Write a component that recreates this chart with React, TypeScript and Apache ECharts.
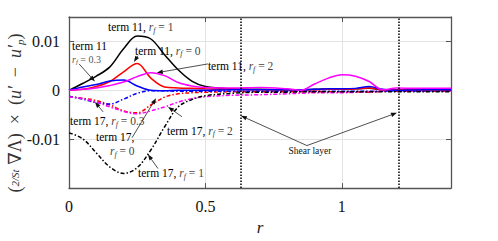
import React, { useEffect, useRef } from 'react';
import * as echarts from 'echarts';

const rValues = [0, 0.05, 0.1, 0.15, 0.2, 0.25, 0.3, 0.35, 0.4, 0.45, 0.5, 0.6, 0.7, 0.8, 0.85, 0.9, 0.95, 1.0, 1.05, 1.1, 1.15, 1.2, 1.3, 1.4];

const term11rf1 = [0, 0.0014, 0.0029, 0.0048, 0.0085, 0.0111, 0.0105, 0.0073, 0.0042, 0.0019, 0.0008, 0.0003, 0.0002, 0.0001, 0.0001, 0.0002, 0.0003, 0.0003, 0.0003, 0.0004, 0.0001, 0.0001, 0.0001, 0.0001];
const term11rf0 = [0, 0.0002, 0.0008, 0.0018, 0.0038, 0.0055, 0.0025, 0.0007, 0.0005, 0.0004, 0.0003, 0.0002, 0.0001, 0.0001, 0.0001, 0.0001, 0.0002, 0.0002, 0.0003, 0.0005, 0.0001, 0.0001, 0.0001, 0.0001];
const term11rf03 = [0, 0.0007, 0.0012, 0.0019, 0.0021, 0.0009, 0.0, -0.0001, 0, 0, 0, 0.0001, 0.0001, 0.0001, 0.0001, 0.0002, 0.0003, 0.0003, 0.0004, 0.0008, 0.0002, 0, 0.0001, 0.0001];
const term11rf2 = [0, 0.0002, 0.0005, 0.001, 0.0017, 0.0028, 0.0036, 0.003, 0.0016, 0.0009, 0.0006, 0.0005, 0.0006, 0.0003, 0.0, 0.0013, 0.0025, 0.0032, 0.0029, 0.0018, 0.0001, 0.0005, 0.0004, 0.0004];

const term17rf1 = [-0.0087, -0.0099, -0.0128, -0.0157, -0.017, -0.0158, -0.0122, -0.0075, -0.0034, -0.0019, -0.0011, -0.0006, -0.0004, -0.0004, -0.0003, -0.0003, -0.0003, -0.0003, -0.0003, -0.0003, -0.0003, -0.0003, -0.0003, -0.0003];
const term17rf0 = [-0.0013, -0.0016, -0.0021, -0.003, -0.0042, -0.0046, -0.003, -0.0014, -0.0007, -0.0005, -0.0004, -0.0003, -0.0003, -0.0003, -0.0003, -0.0003, -0.0003, -0.0003, -0.0003, -0.0004, -0.0002, -0.0002, -0.0002, -0.0002];
const term17rf03 = [-0.0012, -0.0018, -0.0025, -0.0028, -0.0018, -0.0006, -0.0001, -0.0001, -0.0002, -0.0002, -0.0002, -0.0002, -0.0002, -0.0002, -0.0002, -0.0002, -0.0002, -0.0002, -0.0002, -0.0002, -0.0002, -0.0002, -0.0002, -0.0002];
const term17rf2 = [-0.0013, -0.0017, -0.0024, -0.0034, -0.0043, -0.0048, -0.0042, -0.0034, -0.0024, -0.0017, -0.0013, -0.001, -0.0009, -0.0007, -0.0006, -0.0005, -0.0005, -0.0005, -0.0004, -0.0003, -0.0002, -0.0002, -0.0002, -0.0002];

const xTickLabels: Record<string, string> = { '0': '0', '0.5': '0.5', '1': '1' };
const yTickLabels: Record<string, string> = { '0.01': '0.01', '0': '0', '-0.01': '-0.01' };

const shearLayerBounds = [0.627, 1.209];

// annotations in data coordinates
const textNotes = [
  { x: 0.143, y: 0.0129, t: '{b|term 11, }{i|r}{s|f}{g| = 1}' },
  { x: 0.011, y: 0.0091, t: '{b|term 11}' },
  { x: 0.011, y: 0.0064, t: '{ism|r}{ss|f}{gsm| = 0.3}' },
  { x: 0.242, y: 0.0081, t: '{b|term 11, }{i|r}{s|f}{g| = 0}' },
  { x: 0.509, y: 0.0049, t: '{b|term 11, }{i|r}{s|f}{g| = 2}' },
  { x: 0.004, y: -0.0063, t: '{b|term 17, }{i|r}{s|f}{g| = 0.3}' },
  { x: 0.099, y: -0.0095, t: '{b|term 17,}' },
  { x: 0.150, y: -0.0125, t: '{i|r}{s|f}{g| = 0}' },
  { x: 0.359, y: -0.0083, t: '{b|term 17, }{i|r}{s|f}{g| = 2}' },
  { x: 0.253, y: -0.017, t: '{b|term 17, }{i|r}{s|f}{g| = 1}' },
];
const shearNote = { x: 0.883, y: -0.0125, t: 'Shear layer' };

const arrowNotes = [
  { from: [0.037, 0.0054], to: [0.095, 0.0018] },
  { from: [0.253, 0.0071], to: [0.238, 0.0058] },
  { from: [0.509, 0.0054], to: [0.322, 0.0036] },
  { from: [0.125, -0.0044], to: [0.095, -0.0024] },
  { from: [0.231, -0.0097], to: [0.319, -0.0016] },
  { from: [0.414, -0.0054], to: [0.363, -0.0034] },
  { from: [0.326, -0.016], to: [0.289, -0.0131] },
  { from: [0.872, -0.0113], to: [0.63, -0.0052] },
  { from: [0.872, -0.0113], to: [1.202, -0.0046] },
];

const SERIF = '"Liberation Serif", "DejaVu Serif", serif';

function pairs(vals: number[]) {
  return rValues.map((r, i) => [r, vals[i]]);
}

const richStyles = {
  b: { fill: '#000', color: '#000', fontSize: 11.5, fontFamily: SERIF, lineHeight: 14 },
  i: { fill: '#444', color: '#444', fontSize: 11.5, fontFamily: SERIF, fontStyle: 'italic', lineHeight: 14 },
  s: { fill: '#444', color: '#444', fontSize: 8, fontFamily: SERIF, fontStyle: 'italic', lineHeight: 14, verticalAlign: 'bottom', padding: [5, 0, 0, 0] },
  g: { fill: '#444', color: '#444', fontSize: 11.5, fontFamily: SERIF, lineHeight: 14 },
  ism: { fill: '#555', color: '#555', fontSize: 10, fontFamily: SERIF, fontStyle: 'italic', lineHeight: 12 },
  ss: { fill: '#555', color: '#555', fontSize: 7, fontFamily: SERIF, fontStyle: 'italic', lineHeight: 12, verticalAlign: 'bottom', padding: [4, 0, 0, 0] },
  gsm: { fill: '#555', color: '#555', fontSize: 10, fontFamily: SERIF, lineHeight: 12 },
};

export default function App() {
  const ref = useRef<HTMLDivElement>(null);
  useEffect(() => {
    document.body.style.margin = '0';
    if (!ref.current) return;
    const chart = echarts.init(ref.current, null, { renderer: 'svg' });
    const axisLine = { show: true, onZero: false, lineStyle: { color: '#555', width: 1.3 } };
    const tick = { show: true, inside: true, length: 5, lineStyle: { color: '#555', width: 1 } };
    const solid = (name: string, vals: number[], color: string) => ({
      name, type: 'line', data: pairs(vals), showSymbol: false, smooth: 0.35, z: 3,
      lineStyle: { color, width: 1.5, type: 'solid' }, itemStyle: { color },
    });
    const dashed = (name: string, vals: number[], color: string) => ({
      name, type: 'line', data: pairs(vals), showSymbol: false, smooth: 0.35, z: 2,
      lineStyle: { color, width: 1.5, type: [4, 2, 1.5, 2] }, itemStyle: { color },
    });
    chart.setOption({
      animation: false,
      grid: { left: 69, right: 47, top: 17, bottom: 51, containLabel: false },
      xAxis: [
        {
          type: 'value', min: 0, max: 1.4, interval: 0.5,
          axisLine, axisTick: tick,
          axisLabel: { fontFamily: SERIF, fontSize: 16, color: '#111', margin: 10, formatter: (v: number) => xTickLabels[String(+v.toFixed(3))] ?? '' },
          splitLine: { show: true, lineStyle: { color: '#e3e3e3', width: 1 } },
          name: 'r', nameLocation: 'middle', nameGap: 30,
          nameTextStyle: { fontFamily: SERIF, fontStyle: 'italic', fontSize: 17, color: '#222' },
        },
        {
          type: 'value', min: 0, max: 1.4, interval: 0.5, position: 'top',
          axisLine, axisTick: tick, axisLabel: { show: false }, splitLine: { show: false },
        },
      ],
      yAxis: [
        {
          type: 'value', min: -0.02, max: 0.015, interval: 0.01,
          axisLine, axisTick: tick,
          axisLabel: { fontFamily: SERIF, fontSize: 16, color: '#111', margin: 9, formatter: (v: number) => yTickLabels[String(+v.toFixed(4))] ?? '' },
          splitLine: { show: true, lineStyle: { color: '#e3e3e3', width: 1 } },
        },
        {
          type: 'value', min: -0.02, max: 0.015, interval: 0.01, position: 'right',
          axisLine, axisTick: tick, axisLabel: { show: false }, splitLine: { show: false },
        },
      ],
      series: [
        dashed('term17rf0', term17rf0, '#ff0000'),
        dashed('term17rf03', term17rf03, '#0000ff'),
        dashed('term17rf2', term17rf2, '#ff00ff'),
        dashed('term17rf1', term17rf1, '#000000'),
        solid('term11rf1', term11rf1, '#000000'),
        solid('term11rf0', term11rf0, '#ff0000'),
        solid('term11rf03', term11rf03, '#0000ff'),
        solid('term11rf2', term11rf2, '#ff00ff'),
        {
          name: 'shear', type: 'line', data: [], z: 4,
          markLine: {
            silent: true, symbol: 'none', label: { show: false },
            lineStyle: { color: '#000', type: [1.5, 1.5], width: 1.5 },
            data: shearLayerBounds.map((x) => ({ xAxis: x })),
          },
        },
      ],
    });

    const px = (p: number[]) => chart.convertToPixel({ gridIndex: 0 }, p) as number[];
    const graphics: any[] = [];
    textNotes.forEach((n) => {
      const p = px([n.x, n.y]);
      graphics.push({
        type: 'text', x: p[0], y: p[1], z: 10,
        style: { text: n.t, rich: richStyles, textAlign: 'left', textVerticalAlign: 'middle', verticalAlign: 'middle', fontFamily: SERIF, fontSize: 11.5, fill: '#000' },
      });
    });
    {
      const p = px([shearNote.x, shearNote.y]);
      graphics.push({
        type: 'text', x: p[0], y: p[1], z: 10,
        style: { text: shearNote.t, textAlign: 'center', verticalAlign: 'middle', fontFamily: SERIF, fontSize: 9.5, fill: '#111' },
      });
    }
    arrowNotes.forEach((a) => {
      const p0 = px(a.from);
      const p1 = px(a.to);
      const dx = p1[0] - p0[0];
      const dy = p1[1] - p0[1];
      const len = Math.sqrt(dx * dx + dy * dy) || 1;
      const ux = dx / len, uy = dy / len;
      const hl = 6, hw = 2.2;
      const bx = p1[0] - ux * hl, by = p1[1] - uy * hl;
      graphics.push({
        type: 'line', z: 10,
        shape: { x1: p0[0], y1: p0[1], x2: bx, y2: by },
        style: { stroke: '#222', lineWidth: 0.8 },
      });
      graphics.push({
        type: 'polygon', z: 10,
        shape: { points: [[p1[0], p1[1]], [bx - uy * hw, by + ux * hw], [bx + uy * hw, by - ux * hw]] },
        style: { fill: '#111' },
      });
    });
    graphics.push({
      type: 'text', x: 15, y: 113, rotation: Math.PI / 2, z: 10,
      style: {
        text: '{p|(}{f|2/St}{p| ∇Λ)  ×  (}{i|u′}{p|  −  }{i|u′}{sub|p}{p|)}',
        textAlign: 'center', verticalAlign: 'middle',
        rich: {
          p: { fill: '#333', fontSize: 18, fontFamily: SERIF, lineHeight: 20 },
          f: { fill: '#333', fontSize: 11, fontFamily: SERIF, fontStyle: 'italic', lineHeight: 20 },
          i: { fill: '#333', fontSize: 18, fontFamily: SERIF, fontStyle: 'italic', lineHeight: 20 },
          sub: { fill: '#333', fontSize: 11, fontFamily: SERIF, fontStyle: 'italic', lineHeight: 20, verticalAlign: 'bottom', padding: [7, 0, 0, 0] },
        },
      },
    });
    chart.setOption({ graphic: graphics });
    return () => chart.dispose();
  }, []);
  return <div ref={ref} style={{ width: 498, height: 241 }} />;
}
